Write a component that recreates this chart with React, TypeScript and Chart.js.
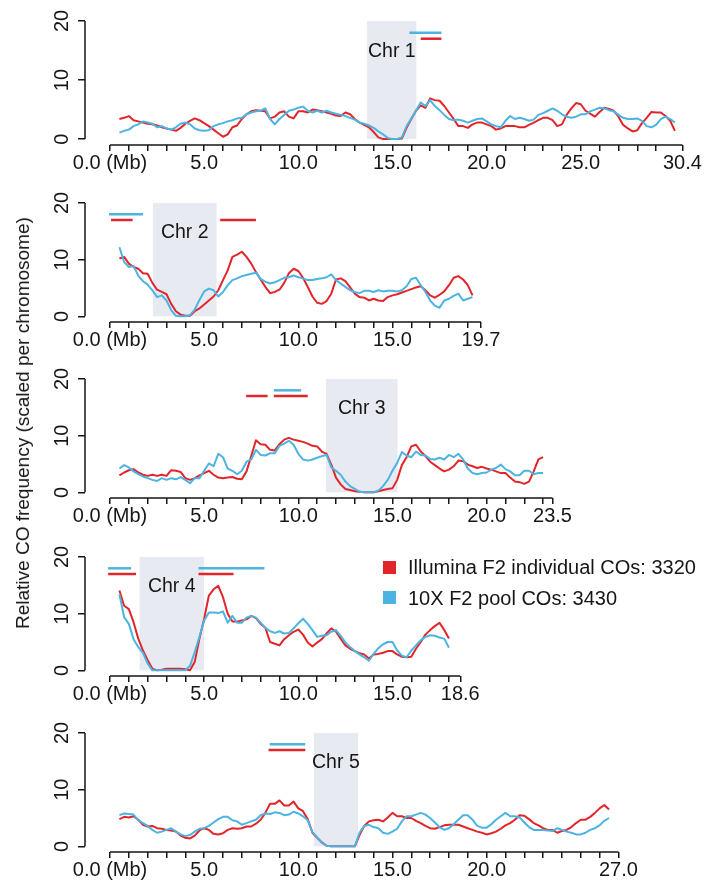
import React, { useEffect, useRef } from 'react';
import { Chart, registerables } from 'chart.js';

Chart.register(...registerables);

const FONT_FAMILY = '"Liberation Sans", Arial, Helvetica, sans-serif';
const RED = '#E2252B';
const BLUE = '#4CB4E1';
const SHADE = '#E8EAF2';
const INK = '#161616';

// ---------- data ----------
const chromosomeNames = ['Chr 1', 'Chr 2', 'Chr 3', 'Chr 4', 'Chr 5'];
const chromosomeLengthsMb = [30.4, 19.7, 23.5, 18.6, 27.0];
const windowStartMb = 0.5;
const windowStepMb = 0.25;

const chr1Illumina = [
  3.4, 3.6, 3.9, 3.2, 3.0, 2.8, 2.6, 2.5, 2.3, 2.0,
  1.8, 1.6, 1.4, 1.9, 2.6, 3.1, 3.5, 3.2, 2.7, 2.2,
  1.6, 1.0, 0.4, 0.8, 2.0, 2.3, 3.4, 4.2, 4.7, 4.9,
  4.8, 4.7, 3.5, 3.8, 4.5, 4.7, 3.8, 3.5, 4.7, 4.7,
  4.5, 5.0, 4.9, 4.7, 4.5, 4.3, 4.0, 3.9, 4.5, 4.2,
  3.4, 2.8, 2.4, 2.0, 1.2, 0.3, 0, 0, 0, 0,
  0.1, 1.9, 3.4, 4.8, 5.7, 5.3, 6.9, 6.6, 6.5, 5.6,
  4.5, 3.4, 2.2, 2.2, 1.9, 2.5, 2.8, 2.8, 2.5, 2.2,
  1.6, 1.8, 2.2, 2.2, 2.2, 2.0, 2.0, 2.4, 2.8, 3.2,
  3.6, 3.6, 3.2, 2.2, 2.5, 4.1, 5.2, 6.1, 5.9, 4.8,
  4.3, 3.8, 4.6, 5.3, 5.1, 4.8, 3.8, 2.4, 1.8, 1.3,
  1.5, 2.7, 3.6, 4.6, 4.5, 4.5, 3.9, 3.1, 1.4,
];
const chr1TenX = [
  1.1, 1.4, 1.6, 2.2, 2.5, 3.0, 2.8, 2.6, 2.0, 2.2,
  1.8, 1.6, 2.0, 2.6, 2.8, 2.5, 1.8, 1.5, 1.4, 1.5,
  2.2, 2.5, 2.7, 3.0, 3.2, 3.5, 3.6, 4.2, 4.5, 4.7,
  4.8, 5.2, 3.4, 2.5, 3.4, 4.1, 4.8, 5.0, 5.3, 5.5,
  4.8, 4.5, 4.8, 4.5, 4.8, 4.5, 4.3, 4.1, 3.9, 3.6,
  3.3, 2.8, 2.6, 2.3, 1.9, 1.3, 0.8, 0.2, 0, 0,
  0.3, 2.2, 3.5, 4.8, 6.2, 5.6, 6.6, 5.6, 4.9, 4.1,
  3.4, 3.2, 3.3, 3.1, 2.8, 3.1, 3.4, 3.5, 3.0, 2.5,
  2.2, 2.0, 3.1, 3.9, 3.4, 3.6, 3.4, 3.1, 3.3, 4.1,
  4.4, 4.8, 5.2, 4.8, 4.2, 3.8, 3.6, 3.8, 4.2, 4.2,
  4.7, 5.0, 5.3, 5.2, 4.9, 4.7, 4.1, 3.6, 3.4, 3.4,
  3.5, 3.1, 2.2, 2.0, 2.4, 3.4, 3.8, 3.4, 2.8,
];

const chr2Illumina = [
  10.2, 10.5, 9.3, 8.7, 8.4, 7.6, 7.5, 5.9, 4.7, 4.3,
  3.9, 2.2, 0.9, 0.3, 0.1, 0.1, 0.9, 1.4, 2.1, 2.8,
  3.5, 4.6, 6.4, 8.1, 10.5, 10.9, 11.4, 10.5, 9.3, 7.8,
  6.5, 5.2, 4.1, 4.3, 4.7, 5.9, 7.6, 8.4, 8.0, 6.8,
  5.2, 3.5, 2.4, 2.2, 2.7, 4.0, 6.5, 6.7, 6.2, 5.1,
  4.0, 3.4, 3.3, 2.8, 3.1, 2.8, 2.7, 3.4, 3.7, 3.9,
  4.2, 4.5, 4.8, 5.1, 5.3, 4.6, 3.7, 3.3, 3.8, 4.4,
  5.5, 6.8, 7.1, 6.5, 5.5, 3.7,
];
const chr2TenX = [
  12.2, 9.6, 8.7, 8.9, 7.2, 6.2, 5.6, 4.6, 3.4, 3.7,
  2.8, 1.1, 0.1, 0, 0, 0.2, 1.2, 2.9, 4.4, 4.9,
  4.6, 3.5, 4.3, 5.5, 6.4, 6.7, 7.1, 7.3, 7.5, 7.7,
  6.6, 6.1, 5.8, 6.0, 6.4, 6.8, 6.9, 7.2, 6.9, 6.7,
  6.4, 6.4, 6.6, 6.7, 6.9, 7.4, 6.4, 5.8, 5.2, 4.6,
  4.3, 4.1, 4.5, 4.5, 4.3, 4.6, 4.4, 4.5, 4.5, 4.4,
  4.6, 5.3, 6.6, 6.8, 5.5, 4.3, 2.8, 1.9, 1.5, 2.8,
  3.1, 3.6, 4.0, 2.8, 3.1, 3.4,
];

const chr3Illumina = [
  3.0, 3.5, 3.9, 4.1, 3.5, 3.1, 2.9, 3.1, 2.9, 3.1,
  2.9, 3.9, 3.8, 3.6, 2.5, 2.2, 2.5, 3.0, 3.4, 3.8,
  3.1, 2.6, 2.5, 2.6, 2.7, 2.4, 2.3, 3.7, 6.4, 9.2,
  8.5, 8.4, 7.5, 7.4, 8.5, 9.3, 9.6, 9.3, 9.1, 8.9,
  8.6, 8.2, 8.1, 7.2, 6.8, 4.9, 2.6, 1.4, 0.6, 0.4,
  0.2, 0.1, 0, 0, 0, 0.2, 0.4, 0.6, 0.7, 2.2,
  4.8, 6.2, 8.1, 8.4, 7.2, 6.4, 5.4, 4.8, 4.2, 3.7,
  4.0, 4.6, 5.6, 5.5, 4.9, 4.6, 4.3, 4.5, 4.2, 4.0,
  3.7, 3.4, 3.4, 2.6, 1.9, 1.8, 1.5, 1.9, 3.7, 5.8, 6.2,
];
const chr3TenX = [
  4.2, 4.8, 4.4, 3.7, 3.2, 2.8, 2.5, 2.2, 2.0, 2.5,
  2.2, 2.5, 2.3, 2.7, 2.2, 1.6, 2.5, 2.5, 3.8, 5.1,
  4.6, 6.8, 6.2, 4.2, 3.8, 3.2, 3.8, 5.4, 5.8, 7.5,
  6.6, 6.5, 6.9, 6.9, 8.2, 8.6, 9.1, 8.4, 6.8, 5.8,
  5.6, 5.8, 6.1, 6.4, 6.6, 4.4, 3.8, 3.1, 1.9, 1.1,
  0.6, 0.1, 0, 0, 0, 0.3, 1.1, 2.2, 3.8, 5.2,
  7.1, 6.5, 6.2, 7.2, 6.6, 6.5, 5.9, 5.8, 6.1, 5.8,
  6.6, 6.2, 6.8, 5.8, 4.2, 3.4, 3.2, 3.4, 3.5, 4.0,
  4.3, 4.9, 4.1, 3.7, 3.0, 3.0, 3.8, 3.8, 3.2, 3.4, 3.4,
];

const chr4Illumina = [
  14.1, 11.4, 10.8, 8.5, 5.6, 3.5, 1.8, 0.3, 0, 0.1,
  0.3, 0.3, 0.3, 0.3, 0.2, 0, 1.5, 5.6, 9.1, 13.2,
  14.3, 14.9, 12.9, 10.0, 8.6, 8.6, 8.8, 9.0, 9.6, 9.2,
  8.2, 7.5, 5.0, 4.7, 4.4, 5.5, 6.2, 6.8, 7.2, 6.3,
  4.9, 4.2, 4.9, 5.5, 6.5, 7.4, 6.8, 5.6, 4.4, 3.8,
  3.4, 3.0, 2.8, 2.1, 2.8, 2.9, 3.1, 3.4, 3.4, 2.8,
  2.4, 2.3, 2.4, 3.8, 5.0, 6.3, 7.1, 7.8, 8.4, 7.1, 5.6,
];
const chr4TenX = [
  13.4, 9.4, 8.2, 5.5, 4.1, 3.1, 1.2, 0, 0, 0,
  0, 0, 0, 0, 0, 0.8, 3.2, 5.9, 8.8, 10.2,
  10.2, 10.1, 10.4, 8.4, 9.6, 8.4, 8.4, 9.3, 9.6, 9.3,
  8.4, 7.5, 6.9, 6.6, 6.9, 6.5, 6.6, 7.4, 8.3, 9.1,
  8.2, 7.1, 5.9, 6.1, 6.2, 6.8, 7.1, 6.1, 4.9, 4.1,
  3.4, 2.8, 2.3, 1.7, 2.9, 3.9, 4.6, 5.0, 5.0, 3.5,
  2.6, 2.3, 3.5, 4.4, 5.3, 5.9, 6.2, 6.1, 5.8, 5.6, 4.0,
];

const chr5Illumina = [
  4.8, 5.2, 5.1, 5.3, 4.7, 3.8, 3.5, 3.6, 3.2, 3.1,
  2.9, 2.8, 2.6, 1.9, 1.5, 1.4, 1.9, 2.8, 3.2, 2.9,
  2.2, 2.1, 2.3, 2.9, 3.2, 3.1, 3.2, 3.5, 3.5, 4.0,
  4.7, 5.9, 7.5, 7.5, 8.1, 7.2, 7.2, 7.9, 6.7, 6.2,
  4.8, 2.4, 1.5, 0.7, 0.1, 0, 0, 0, 0, 0,
  0, 2.0, 3.6, 4.4, 4.6, 4.7, 4.4, 5.1, 5.9, 5.3,
  5.3, 5.0, 5.0, 4.5, 4.1, 3.6, 3.2, 3.1, 3.4, 3.7,
  3.8, 3.8, 3.8, 3.5, 3.2, 2.9, 2.6, 2.4, 2.1, 2.3,
  2.6, 3.1, 3.7, 4.1, 4.7, 5.5, 5.4, 4.8, 4.1, 3.7,
  3.2, 2.9, 2.9, 2.4, 2.7, 2.9, 3.4, 4.1, 4.7, 4.7,
  5.2, 5.9, 6.7, 7.3, 6.5,
];
const chr5TenX = [
  5.5, 5.8, 5.7, 5.6, 4.6, 4.1, 3.6, 2.9, 2.4, 2.6,
  2.9, 3.2, 2.6, 2.1, 1.8, 2.0, 2.6, 3.1, 3.2, 3.6,
  4.2, 4.8, 5.2, 5.2, 4.6, 4.4, 3.8, 4.1, 4.4, 4.7,
  5.5, 5.8, 5.7, 6.0, 5.9, 5.5, 5.6, 6.1, 5.8, 5.3,
  4.6, 2.5, 1.6, 0.6, 0.1, 0, 0, 0, 0, 0,
  0, 2.4, 3.6, 3.8, 3.4, 3.2, 2.4, 2.2, 2.6, 3.1,
  4.4, 5.3, 5.3, 5.6, 5.9, 5.6, 5.0, 4.2, 3.4, 2.9,
  3.2, 3.9, 4.7, 5.5, 5.5, 4.7, 3.6, 3.3, 3.3, 3.9,
  4.7, 5.3, 5.9, 5.3, 5.3, 5.1, 4.2, 3.4, 2.9, 2.9,
  2.9, 2.8, 2.7, 3.2, 2.9, 2.6, 2.4, 2.1, 2.1, 2.4,
  2.9, 3.2, 3.7, 4.5, 5.0,
];

const illuminaSeries = [chr1Illumina, chr2Illumina, chr3Illumina, chr4Illumina, chr5Illumina];
const tenXSeries = [chr1TenX, chr2TenX, chr3TenX, chr4TenX, chr5TenX];

const centromeresMb = [
  [13.65, 16.28],
  [2.27, 5.67],
  [11.47, 15.28],
  [1.56, 5.0],
  [10.82, 13.17],
];
const illuminaBarsMb = [
  [[16.5, 17.6]],
  [[0.05, 1.2], [5.85, 7.75]],
  [[7.23, 8.37], [8.7, 10.5]],
  [[-0.1, 1.38], [4.7, 6.56]],
  [[8.42, 10.37]],
];
const tenXBarsMb = [
  [[15.9, 17.6]],
  [[-0.05, 1.75]],
  [[8.7, 10.15]],
  [[-0.1, 1.12], [4.7, 8.2]],
  [[8.48, 10.37]],
];
const ILLUMINA_BAR_LEVEL = 17;
const TENX_BAR_LEVEL = 18;
const CHR_LABEL_LEVEL = 14.8;

const legendLabels = ['Illumina F2 individual COs: 3320', '10X F2 pool COs: 3430'];
const legendColors = [RED, BLUE];
const yTickValues = [0, 10, 20];
const yTitle = 'Relative CO frequency (scaled per chromosome)';

// ---------- layout ----------
const PANEL_TOPS = [21, 203, 379, 557, 733];
const PANEL_HEIGHTS = [124, 119, 119, 119, 119];
const TOP_PAD = 20;
const X_AXIS_H = 34;
const Y_AXIS_W = 85;
const X_MIN = -1.328;
const X_MAX = 31.65;
const Y_MIN = -1;
const Y_MAX = 20;

function xTickValues(L: number) {
  const t: number[] = [];
  for (let v = 0; v <= L; v++) {
    if (L - v > 0.45) t.push(v);
  }
  t.push(L);
  return t;
}

function xTickLabel(v: number, L: number) {
  if (v === 0) return '0.0 (Mb)';
  if (Math.abs(v - L) < 1e-6) return L.toFixed(1);
  if (v % 5 === 0 && L - v >= 3) return v.toFixed(1);
  return '';
}

const decorPlugin = {
  id: 'decor',
  afterDraw(chart: any, _args: any, opts: any) {
    const { ctx, chartArea, scales } = chart;
    const x = scales.x;
    const y = scales.y;
    ctx.save();
    ctx.strokeStyle = INK;
    ctx.lineWidth = 1.5;
    ctx.beginPath();
    ctx.moveTo(x.getPixelForValue(0), chartArea.bottom);
    ctx.lineTo(x.getPixelForValue(opts.length), chartArea.bottom);
    ctx.moveTo(chartArea.left, y.getPixelForValue(0));
    ctx.lineTo(chartArea.left, y.getPixelForValue(20));
    ctx.stroke();
    ctx.fillStyle = INK;
    ctx.font = `19.5px ${FONT_FAMILY}`;
    ctx.textAlign = 'center';
    ctx.textBaseline = 'middle';
    ctx.fillText(opts.name, x.getPixelForValue(opts.center), y.getPixelForValue(CHR_LABEL_LEVEL));
    ctx.restore();
  },
};

function Panel({ index }: { index: number }) {
  const ref = useRef<HTMLCanvasElement>(null);
  useEffect(() => {
    const canvas = ref.current;
    if (!canvas) return;
    const L = chromosomeLengthsMb[index];
    const toPoints = (vals: number[]) =>
      vals.map((v, i) => ({ x: windowStartMb + i * windowStepMb, y: v }));
    const [c0, c1] = centromeresMb[index];
    const datasets: any[] = [];
    datasets.push({
      data: [{ x: c0, y: 20 }, { x: c1, y: 20 }],
      fill: { value: 0 },
      backgroundColor: SHADE,
      borderColor: 'rgba(0,0,0,0)',
      borderWidth: 0,
      pointRadius: 0,
      order: 10,
    });
    illuminaBarsMb[index].forEach(([a, b]) =>
      datasets.push({
        data: [{ x: a, y: ILLUMINA_BAR_LEVEL }, { x: b, y: ILLUMINA_BAR_LEVEL }],
        borderColor: RED,
        borderWidth: 2.5,
        pointRadius: 0,
        order: 4,
      })
    );
    tenXBarsMb[index].forEach(([a, b]) =>
      datasets.push({
        data: [{ x: a, y: TENX_BAR_LEVEL }, { x: b, y: TENX_BAR_LEVEL }],
        borderColor: BLUE,
        borderWidth: 2.5,
        pointRadius: 0,
        order: 4,
      })
    );
    datasets.push({
      data: toPoints(illuminaSeries[index]),
      borderColor: RED,
      borderWidth: 2,
      borderJoinStyle: 'round',
      pointRadius: 0,
      order: 2,
    });
    datasets.push({
      data: toPoints(tenXSeries[index]),
      borderColor: BLUE,
      borderWidth: 2,
      borderJoinStyle: 'round',
      pointRadius: 0,
      order: 1,
    });

    const tickFont = { family: FONT_FAMILY, size: 20 };
    const chart = new Chart(canvas, {
      type: 'line',
      data: { datasets },
      options: {
        animation: false,
        responsive: false,
        maintainAspectRatio: false,
        events: [],
        layout: { padding: { top: TOP_PAD, left: 0, right: 0, bottom: 0 } },
        plugins: {
          legend: { display: false },
          tooltip: { enabled: false },
          decor: { length: L, name: chromosomeNames[index], center: (c0 + c1) / 2 },
        } as any,
        scales: {
          x: {
            type: 'linear',
            min: X_MIN,
            max: X_MAX,
            afterFit: (s: any) => {
              s.height = X_AXIS_H;
            },
            afterBuildTicks: (s: any) => {
              s.ticks = xTickValues(L).map((v) => ({ value: v }));
            },
            ticks: {
              autoSkip: false,
              maxRotation: 0,
              minRotation: 0,
              padding: 0,
              color: INK,
              font: tickFont,
              callback: (v: any) => xTickLabel(Number(v), L),
            },
            grid: { drawOnChartArea: false, drawTicks: true, tickLength: 6, color: INK, lineWidth: 1.5 },
            border: { display: false },
          },
          y: {
            type: 'linear',
            min: Y_MIN,
            max: Y_MAX,
            afterFit: (s: any) => {
              s.width = Y_AXIS_W;
            },
            afterBuildTicks: (s: any) => {
              s.ticks = yTickValues.map((v) => ({ value: v }));
            },
            ticks: {
              minRotation: 90,
              maxRotation: 90,
              crossAlign: 'center',
              padding: 4,
              color: INK,
              font: tickFont,
              callback: (v: any) => String(v),
            },
            grid: { drawOnChartArea: false, drawTicks: true, tickLength: 7, color: INK, lineWidth: 1.5 },
            border: { display: false },
          },
        } as any,
      },
      plugins: [decorPlugin as any],
    });
    return () => chart.destroy();
  }, [index]);

  const h = TOP_PAD + PANEL_HEIGHTS[index] + X_AXIS_H;
  return (
    <canvas
      ref={ref}
      width={706}
      height={h}
      style={{ position: 'absolute', left: 0, top: PANEL_TOPS[index] - TOP_PAD, width: 706, height: h, display: 'block' }}
    />
  );
}

export default function App() {
  const legendCenters = [567, 597.5];
  return (
    <div
      style={{
        position: 'absolute',
        left: 0,
        top: 0,
        width: 706,
        height: 882,
        overflow: 'hidden',
        background: '#ffffff',
        fontFamily: FONT_FAMILY,
        color: INK,
      }}
    >
      {chromosomeNames.map((_, i) => (
        <Panel key={i} index={i} />
      ))}
      <div
        style={{
          position: 'absolute',
          left: 23,
          top: 423,
          transform: 'translate(-50%, -50%) rotate(-90deg)',
          whiteSpace: 'nowrap',
          fontSize: 19,
          lineHeight: '22px',
        }}
      >
        {yTitle}
      </div>
      {legendLabels.map((label, i) => (
        <React.Fragment key={label}>
          <div
            style={{
              position: 'absolute',
              left: 383,
              top: legendCenters[i] - 6.5,
              width: 13,
              height: 13,
              background: legendColors[i],
            }}
          />
          <div
            style={{
              position: 'absolute',
              left: 408,
              top: legendCenters[i] - 12,
              fontSize: 20,
              lineHeight: '24px',
              whiteSpace: 'nowrap',
            }}
          >
            {label}
          </div>
        </React.Fragment>
      ))}
    </div>
  );
}
